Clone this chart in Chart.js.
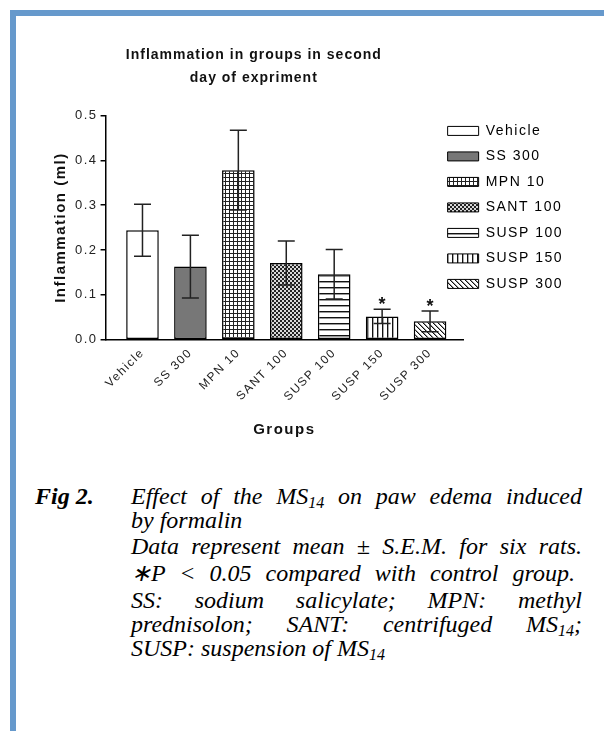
<!DOCTYPE html>
<html>
<head>
<meta charset="utf-8">
<script src="https://cdn.jsdelivr.net/npm/chart.js@4.4.1/dist/chart.umd.min.js"></script>
<style>
  html, body { margin: 0; padding: 0; background: #fff; }
  body { width: 604px; height: 731px; position: relative; overflow: hidden; }
  #frameTop { position: absolute; left: 10px; top: 10px; width: 594px; height: 6px; background: #6699CC; }
  #frameLeft { position: absolute; left: 10px; top: 10px; width: 6px; height: 721px; background: #6699CC; }
  #chart { position: absolute; left: 17px; top: 17px; }
  #caption { position: absolute; left: 35px; top: 484px;
             font-family: 'Liberation Serif', 'Times New Roman', serif; font-size: 24px; line-height: 24px;
             font-style: italic; color: #000; white-space: nowrap; }
  #caption .fig { position: absolute; left: 0; top: 0; font-weight: bold; }
  #caption .body { margin-left: 96px; width: 451px; }
  #caption .j { text-align: justify; text-align-last: justify; white-space: normal; }
  #caption sub { font-size: 16px; line-height: 0; vertical-align: -4px; }
</style>
</head>
<body>
<div id="frameTop"></div>
<div id="frameLeft"></div>
<canvas id="chart" width="587" height="440"></canvas>
<div id="caption">
  <div class="fig">Fig 2.</div>
  <div class="body">
    <div class="j">Effect of the MS<sub>14</sub> on paw edema induced</div>
    <div>by formalin</div>
    <div class="j" style="margin-top:2px">Data represent mean ± S.E.M. for six rats.</div>
    <div class="j" style="margin-top:3px; width:444px">∗P &lt; 0.05 compared with control group.</div>
    <div class="j" style="margin-top:3px">SS: sodium salicylate; MPN: methyl</div>
    <div class="j">prednisolon; SANT: centrifuged MS<sub>14</sub>;</div>
    <div>SUSP: suspension of MS<sub>14</sub></div>
  </div>
</div>
<script>
// ---- data ----
const categories = ['Vehicle', 'SS 300', 'MPN 10', 'SANT 100', 'SUSP 100', 'SUSP 150', 'SUSP 300'];
const means = [0.244, 0.163, 0.378, 0.171, 0.146, 0.052, 0.041];
const sems  = [0.058, 0.070, 0.089, 0.049, 0.055, 0.016, 0.023];
const marks = ['', '', '', '', '', '*', '*'];
const yTicks = [0, 0.1, 0.2, 0.3, 0.4, 0.5];

// ---- styles ----
const FONT = "'Liberation Sans', Arial, sans-serif";
const LETTER_SPACING = '1.5px';
const TITLE_LETTER_SPACING = '1px';
const CAP = 8.5;
const LEGEND_SHIFT_X = 27;
const LEGEND_SHIFT_Y = 3;
const TITLE_SHIFT_X = 6;

function tile(w, h, draw) {
  const c = document.createElement('canvas');
  c.width = w; c.height = h;
  const g = c.getContext('2d');
  g.fillStyle = '#fff'; g.fillRect(0, 0, w, h);
  draw(g, w, h);
  return g.createPattern(c, 'repeat');
}
const fills = [
  '#ffffff',
  '#777777',
  tile(4, 4, (g) => { g.fillStyle = '#222'; g.fillRect(0, 0, 4, 1); g.fillRect(0, 0, 1, 4); }),
  tile(4, 4, (g) => {
    g.fillStyle = '#d8d8d8'; g.fillRect(0, 0, 4, 4);
    g.fillStyle = '#222';
    for (let i = 0; i < 4; i++) { g.fillRect(i, i, 1, 1); g.fillRect(3 - i, i, 1, 1); }
  }),
  tile(4, 6, (g) => { g.fillStyle = '#111'; g.fillRect(0, 0, 4, 1); g.fillStyle = '#999'; g.fillRect(0, 1, 4, 1); }),
  tile(5, 4, (g) => { g.fillStyle = '#111'; g.fillRect(0, 0, 1, 4); g.fillStyle = '#aaa'; g.fillRect(1, 0, 1, 4); }),
  tile(5, 5, (g) => {
    for (let i = 0; i < 5; i++) { g.fillStyle = '#111'; g.fillRect(i, i, 1, 1); g.fillStyle = '#999'; g.fillRect((i + 1) % 5, i, 1, 1); }
  })
];

const layoutPlugin = {
  id: 'layoutTweak',
  beforeLayout(chart) { chart.ctx.letterSpacing = LETTER_SPACING; },
  afterLayout(chart) {
    const lg = chart.legend;
    lg.left -= LEGEND_SHIFT_X; lg.right -= LEGEND_SHIFT_X;
    lg.top -= LEGEND_SHIFT_Y; lg.bottom -= LEGEND_SHIFT_Y;
    const t = chart.titleBlock;
    t.left = chart.scales.y.left + TITLE_SHIFT_X;
    t.right = lg.left + lg.options.labels.padding + TITLE_SHIFT_X;
    if (!t._lsWrapped) {
      const orig = t.draw.bind(t);
      t.draw = function (...args) {
        const ctx = chart.ctx;
        const prev = ctx.letterSpacing;
        ctx.letterSpacing = TITLE_LETTER_SPACING;
        orig(...args);
        ctx.letterSpacing = prev;
      };
      t._lsWrapped = true;
    }
  },
  beforeDraw(chart) { chart.ctx.letterSpacing = LETTER_SPACING; }
};

const errorBarPlugin = {
  id: 'errorBars',
  afterDatasetsDraw(chart) {
    const ctx = chart.ctx;
    const y = chart.scales.y;
    const meta = chart.getDatasetMeta(0);
    ctx.save();
    ctx.strokeStyle = '#222';
    ctx.lineWidth = 1.5;
    meta.data.forEach((bar, i) => {
      const x = bar.x;
      const t = y.getPixelForValue(means[i] + sems[i]);
      const b = y.getPixelForValue(means[i] - sems[i]);
      ctx.beginPath();
      ctx.moveTo(x, t); ctx.lineTo(x, b);
      ctx.moveTo(x - CAP, t); ctx.lineTo(x + CAP, t);
      ctx.moveTo(x - CAP, b); ctx.lineTo(x + CAP, b);
      ctx.stroke();
      if (marks[i]) {
        ctx.font = 'bold 18px ' + FONT;
        ctx.fillStyle = '#111';
        ctx.textAlign = 'center';
        ctx.textBaseline = 'alphabetic';
        ctx.fillText(marks[i], x + 0.75, t + 1);
      }
    });
    ctx.restore();
  }
};

new Chart(document.getElementById('chart'), {
  type: 'bar',
  data: {
    datasets: [{
      label: 'Inflammation (ml)',
      data: categories.map((c, i) => ({ x: i, y: means[i] })),
      backgroundColor: fills,
      borderColor: '#000',
      borderWidth: 1.5,
      borderSkipped: false,
      barPercentage: 0.68,
      categoryPercentage: 1
    }]
  },
  options: {
    responsive: false,
    animation: false,
    layout: { padding: { left: 31, right: 4, top: 0, bottom: 14 } },
    plugins: {
      title: {
        display: true,
        text: ['Inflammation in groups in second', 'day of expriment'],
        color: '#111',
        font: { family: FONT, size: 14, weight: 'bold', lineHeight: 1.64 },
        padding: { top: 26.5, bottom: 26 }
      },
      legend: {
        position: 'right',
        align: 'start',
        fullSize: false,
        labels: {
          boxWidth: 31,
          boxHeight: 9,
          padding: 11.5,
          color: '#222',
          font: { family: FONT, size: 14 },
          generateLabels: () => categories.map((c, i) => ({
            text: c, fillStyle: fills[i], strokeStyle: '#000', lineWidth: 1, hidden: false, index: i, datasetIndex: 0
          }))
        },
        onClick: () => {}
      },
      tooltip: { enabled: false }
    },
    scales: {
      x: {
        type: 'linear',
        min: -0.77,
        max: 6.69,
        offset: false,
        afterBuildTicks: (scale) => { scale.ticks = categories.map((c, i) => ({ value: i })); },
        ticks: {
          callback: (v) => categories[Math.round(v)],
          autoSkip: false,
          minRotation: 45,
          maxRotation: 45,
          padding: 6,
          color: '#222',
          font: { family: FONT, size: 12 }
        },
        grid: { display: false, drawTicks: false },
        border: { display: true, color: '#000', width: 1.5 },
        title: {
          display: true, text: 'Groups', color: '#111',
          font: { family: FONT, size: 15, weight: 'bold' },
          padding: { top: 11, bottom: 4 }
        }
      },
      y: {
        min: 0,
        max: 0.5,
        afterBuildTicks: (scale) => { scale.ticks = yTicks.map(v => ({ value: v })); },
        ticks: {
          callback: (v) => v.toFixed(1),
          padding: 3,
          color: '#222',
          font: { family: FONT, size: 13 }
        },
        grid: { display: true, drawOnChartArea: false, drawTicks: true, tickLength: 5, color: '#000', lineWidth: 1.5 },
        border: { display: true, color: '#000', width: 1.5 },
        title: {
          display: true, text: 'Inflammation (ml)', color: '#111',
          font: { family: FONT, size: 15, weight: 'bold' },
          padding: { top: 4, bottom: 2 }
        }
      }
    }
  },
  plugins: [layoutPlugin, errorBarPlugin]
});
</script>
</body>
</html>
